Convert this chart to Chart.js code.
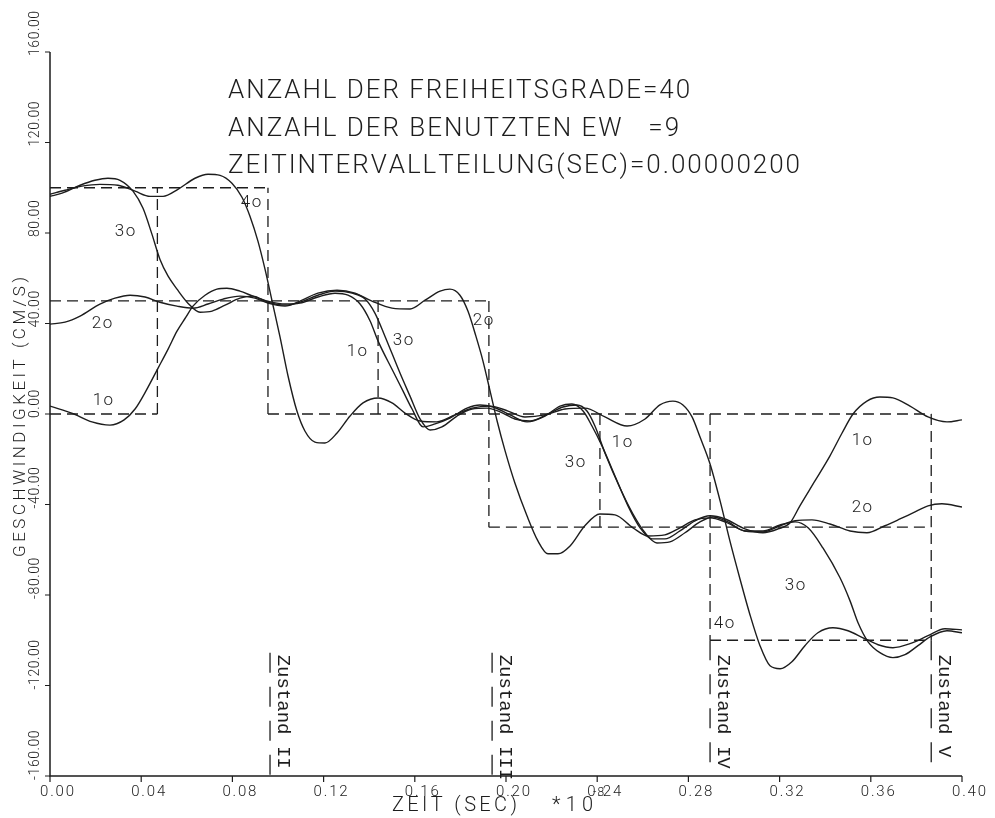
<!DOCTYPE html>
<html>
<head>
<meta charset="utf-8">
<script src="https://cdn.jsdelivr.net/npm/chart.js@4.4.1/dist/chart.umd.min.js"></script>
<style>
    html, body { margin: 0; padding: 0; background: #fff; }
    #wrap { width: 995px; height: 818px; }
</style>
</head>
<body>
<div id="wrap"><canvas id="chart" width="995" height="818"></canvas></div>
<script>
// Data: [zeit, geschwindigkeit]
const curve1 = [
    [0, 3.5], [0.0105, 0], [0.0184, -3.5], [0.0263, -4.9], [0.0325, -2.6], [0.0373, 2.2],
    [0.0421, 10.2], [0.0474, 20.3], [0.0518, 28.7], [0.0557, 36.6], [0.0596, 42.8], [0.0627, 47.7],
    [0.068, 52.5], [0.0732, 55.2], [0.0776, 55.6], [0.0833, 54.3], [0.089, 52.1], [0.0956, 49.9],
    [0.1031, 48.6], [0.1096, 49], [0.1175, 51.7], [0.125, 53.4], [0.1307, 52.5], [0.136, 48.6],
    [0.1404, 41.1], [0.1439, 32.2], [0.1504, 19], [0.1548, 10.2], [0.1588, 2.2], [0.1636, -5.7],
    [0.1689, -4.4], [0.1754, -1.8], [0.1829, 2.6], [0.1886, 4], [0.1943, 3.1], [0.2018, -0.4],
    [0.2092, -3.5], [0.2171, -0.9], [0.2237, 3.5], [0.2289, 4.4], [0.2338, 1.3], [0.2377, -5.3],
    [0.2421, -14.1], [0.2478, -27.4], [0.2535, -40.6], [0.2588, -50.3], [0.264, -55.2], [0.2697, -55.2],
    [0.2763, -51.7], [0.2829, -47.2], [0.2895, -45], [0.2961, -46.4], [0.3048, -50.8], [0.3127, -52.5],
    [0.3193, -50.8], [0.3246, -48.1], [0.3289, -40.6], [0.3355, -29.6], [0.3421, -18.5], [0.3474, -8.4],
    [0.3522, 0], [0.3583, 5.7], [0.364, 7.5], [0.3697, 7.1], [0.3772, 3.5], [0.3851, -1.3],
    [0.3934, -3.5], [0.4, -2.6]
];
const curve2 = [
    [0, 39.7], [0.0066, 40.6], [0.0132, 43.3], [0.0219, 48.6], [0.0285, 51.2], [0.0351, 52.5],
    [0.0417, 51.7], [0.0482, 49.4], [0.0557, 47.7], [0.0627, 46.8], [0.0693, 48.6], [0.0759, 50.8],
    [0.0833, 52.1], [0.0899, 51.2], [0.0956, 49], [0.1031, 47.7], [0.1096, 49.9], [0.1175, 53.4],
    [0.1259, 54.7], [0.1338, 53.4], [0.1412, 49.9], [0.15, 46.8], [0.1579, 46.4], [0.1645, 50.3],
    [0.1711, 54.3], [0.1754, 55.2], [0.1798, 52.5], [0.1833, 45.5], [0.1868, 34.4], [0.1899, 23.4],
    [0.193, 10.2], [0.1961, -3.1], [0.1996, -16.3], [0.2039, -30.5], [0.2092, -45], [0.214, -56.1],
    [0.2184, -61.8], [0.2228, -61.8], [0.2281, -58.3], [0.2346, -49.4], [0.2412, -44.2], [0.2478, -44.6],
    [0.2557, -50.3], [0.2623, -53.9], [0.2697, -53.4], [0.2763, -50.3], [0.2829, -46.8], [0.2895, -45.9],
    [0.2961, -47.7], [0.3048, -51.7], [0.3127, -52.1], [0.3202, -49.4], [0.3268, -47.2], [0.3342, -46.8],
    [0.3421, -48.6], [0.3509, -51.7], [0.3583, -52.5], [0.3662, -49.4], [0.3728, -46.4], [0.3785, -43.7],
    [0.3851, -40.6], [0.3912, -39.7], [0.4, -41.1]
];
const curve3 = [
    [0, 96.2], [0.0053, 97.6], [0.0132, 101.1], [0.0197, 103.3], [0.0254, 104.2], [0.0307, 103.3],
    [0.0364, 98.5], [0.0408, 90.9], [0.0447, 79.5], [0.0482, 68.4], [0.0518, 60.9], [0.0557, 55.2],
    [0.0605, 49], [0.0658, 45], [0.0711, 45.5], [0.0768, 48.1], [0.0833, 51.2], [0.089, 52.1],
    [0.0956, 49.4], [0.1031, 48.1], [0.1096, 49.4], [0.1175, 52.5], [0.125, 54.3], [0.1325, 53.4],
    [0.1382, 50.8], [0.1425, 44.6], [0.1469, 34.4], [0.1535, 18.1], [0.1579, 7.9], [0.1623, -2.2],
    [0.1667, -7.1], [0.1719, -5.7], [0.1785, -0.9], [0.1851, 2.2], [0.1917, 2.6], [0.1974, 0.9],
    [0.2039, -2.2], [0.2105, -3.1], [0.2184, 0], [0.225, 3.1], [0.2311, 4], [0.2355, 1.3],
    [0.239, -5.3], [0.2434, -17.2], [0.25, -32.7], [0.2557, -44.2], [0.261, -52.5], [0.2662, -57],
    [0.2719, -56.5], [0.2785, -52.5], [0.2851, -47.7], [0.2908, -45.5], [0.2974, -47.7], [0.3048, -51.7],
    [0.3127, -51.7], [0.3202, -49], [0.3268, -47.7], [0.3325, -50.3], [0.339, -59.2], [0.3465, -72.4],
    [0.3509, -82.6], [0.3544, -92.3], [0.3588, -100.7], [0.364, -105.5], [0.3697, -107.7], [0.375, -106.4],
    [0.3807, -102.4], [0.386, -98.5], [0.3934, -95.8], [0.4, -96.7]
];
const curve4 = [
    [0, 97.1], [0.0066, 98.9], [0.014, 100.7], [0.0219, 101.5], [0.0298, 101.1], [0.0373, 98.5],
    [0.0439, 96.2], [0.0496, 96.2], [0.0561, 99.3], [0.0636, 104.2], [0.0693, 106], [0.0746, 105.5],
    [0.0798, 102], [0.0842, 95.8], [0.0877, 87.4], [0.0912, 76.4], [0.0943, 64], [0.0974, 49.9],
    [0.1009, 34], [0.1044, 16.8], [0.1083, 1.3], [0.1118, -7.5], [0.1162, -12.4], [0.1206, -12.8],
    [0.1259, -8.4], [0.1316, -0.9], [0.1373, 4.9], [0.1439, 7.1], [0.15, 4.9], [0.1557, 0.4],
    [0.1623, -3.1], [0.1697, -3.5], [0.1776, -0.4], [0.1851, 2.6], [0.193, 3.5], [0.2009, 1.3],
    [0.2083, -1.3], [0.2171, -0.4], [0.2259, 2.2], [0.2346, 2.6], [0.2434, -1.3], [0.2531, -5.3],
    [0.261, -2.2], [0.2675, 4], [0.2732, 5.7], [0.2776, 4], [0.2816, -1.3], [0.2851, -10.2],
    [0.2895, -22.1], [0.2939, -38.4], [0.2982, -56.1], [0.3026, -72.8], [0.307, -88.7], [0.3114, -102.4],
    [0.3158, -111.3], [0.3202, -112.6], [0.3254, -109.5], [0.3311, -102.4], [0.3368, -96.7], [0.3434, -94.5],
    [0.35, -95.8], [0.3566, -98.9], [0.3632, -102], [0.3697, -103.3], [0.3772, -101.5], [0.3851, -98],
    [0.3925, -94.9], [0.4, -95.4]
];

// Exact step solution, drawn dashed: [t1, v1, t2, v2]
const stepSegments = [
    [0, 100, 0.0956, 100], [0, 50, 0.1925, 50], [0, 0, 0.0471, 0], [0.0956, 0, 0.3865, 0],
    [0.1925, -50, 0.3865, -50], [0.2895, -100, 0.3865, -100],
    [0.0471, 0, 0.0471, 100], [0.0956, 0, 0.0956, 100], [0.1439, 0, 0.1439, 50],
    [0.1925, 50, 0.1925, -50], [0.2412, 0, 0.2412, -50], [0.2895, 0, 0.2895, -100],
    [0.3865, 0, 0.3865, -100]
];

// Zustand markers
const zustandT = [0.0965, 0.1939, 0.2895, 0.3865];
const zustandTop = [-105.5, -105.5, -100, -100];
const zustandNames = ['Zustand II', 'Zustand III', 'Zustand IV', 'Zustand V'];

// Curve labels: [text, t, v]
const curveLabels = [
    ['4o', 0.0882, 93.2], ['3o', 0.0329, 80.4], ['2o', 0.0228, 39.7], ['1o', 0.0232, 5.7],
    ['2o', 0.1899, 41.1], ['3o', 0.1548, 32.2], ['1o', 0.1346, 27.4],
    ['1o', 0.2509, -12.8], ['3o', 0.2303, -21.6],
    ['1o', 0.3561, -11.9], ['2o', 0.3561, -41.5], ['3o', 0.3268, -75.9], ['4o', 0.2956, -92.7]
];

// Axes
const xTicks = [0, 0.04, 0.08, 0.12, 0.16, 0.20, 0.24, 0.28, 0.32, 0.36, 0.40];
const yTicks = [160, 120, 80, 40, 0, -40, -80, -120, -160];
const headerLines = [
    'ANZAHL DER FREIHEITSGRADE=40',
    'ANZAHL DER BENUTZTEN EW   =9',
    'ZEITINTERVALLTEILUNG(SEC)=0.00000200'
];
const xTitle = 'ZEIT (SEC)';
const yTitle = 'GESCHWINDIGKEIT (CM/S)';

const INK = '#1d1d1d';
const PLOT_FONT = 'Roboto, "DejaVu Sans", sans-serif';

function toPoints(pairs) {
    return pairs.map(p => ({ x: p[0], y: p[1] }));
}

function segmentsToPoints(segs) {
    const out = [];
    segs.forEach(s => {
        out.push({ x: s[0], y: s[1] }, { x: s[2], y: s[3] }, { x: s[2], y: null });
    });
    return out;
}

function zustandPoints() {
    const out = [];
    zustandT.forEach((t, i) => {
        out.push({ x: t, y: zustandTop[i] }, { x: t, y: -160 }, { x: t, y: null });
    });
    return out;
}

// Text helpers (plotter lettering is widely spaced)
function spacedWidth(ctx, text, gap) {
    let w = 0;
    for (const ch of text) w += ctx.measureText(ch).width + gap;
    return w - gap;
}

function fitGap(ctx, text, target) {
    return (target - spacedWidth(ctx, text, 0)) / (text.length - 1);
}

function drawSpaced(ctx, text, x, y, gap, align) {
    const w = spacedWidth(ctx, text, gap);
    let cx = x;
    if (align === 'center') cx = x - w / 2;
    if (align === 'right') cx = x - w;
    ctx.textAlign = 'left';
    for (const ch of text) {
        ctx.fillText(ch, cx, y);
        cx += ctx.measureText(ch).width + gap;
    }
}

const plotterDecor = {
    id: 'plotterDecor',
    afterDraw(chart) {
        const ctx = chart.ctx;
        const xs = chart.scales.x;
        const ys = chart.scales.y;
        const x0 = xs.getPixelForValue(0);
        const x1 = xs.getPixelForValue(0.4);
        const yTop = ys.getPixelForValue(160);
        const yBot = ys.getPixelForValue(-160);

        ctx.save();
        ctx.strokeStyle = INK;
        ctx.fillStyle = INK;
        ctx.lineWidth = 1.5;

        // axis lines
        ctx.beginPath();
        ctx.moveTo(x0, yTop);
        ctx.lineTo(x0, yBot);
        ctx.lineTo(x1, yBot);
        ctx.stroke();

        // tick marks
        ctx.lineWidth = 1.2;
        ctx.beginPath();
        yTicks.forEach(v => {
            const py = ys.getPixelForValue(v);
            ctx.moveTo(x0 - 5, py);
            ctx.lineTo(x0, py);
        });
        xTicks.forEach(t => {
            const px = xs.getPixelForValue(t);
            ctx.moveTo(px, yBot);
            ctx.lineTo(px, yBot + 6);
        });
        ctx.stroke();

        // y tick labels, rotated, starting at the tick and reading upward
        ctx.font = '300 14px ' + PLOT_FONT;
        ctx.textBaseline = 'middle';
        const yGap = fitGap(ctx, '120.00', 45);
        yTicks.forEach(v => {
            const py = ys.getPixelForValue(v);
            ctx.save();
            ctx.translate(x0 - 15, py + 4);
            ctx.rotate(-Math.PI / 2);
            drawSpaced(ctx, v.toFixed(2), 0, 0, yGap, 'left');
            ctx.restore();
        });

        // x tick labels
        ctx.font = '300 15px ' + PLOT_FONT;
        ctx.textBaseline = 'alphabetic';
        const xGap = fitGap(ctx, '0.04', 34);
        xTicks.forEach(t => {
            const px = xs.getPixelForValue(t);
            drawSpaced(ctx, t.toFixed(2), px + 7, yBot + 20, xGap, 'center');
        });

        // x title with exponent
        ctx.font = '300 20px ' + PLOT_FONT;
        drawSpaced(ctx, xTitle, 392, yBot + 35, fitGap(ctx, xTitle, 125), 'left');
        drawSpaced(ctx, '*10', 552, yBot + 35, fitGap(ctx, '*10', 41), 'left');
        ctx.font = '300 12px ' + PLOT_FONT;
        drawSpaced(ctx, '-8', 593, yBot + 20, 1, 'left');

        // y title
        ctx.font = '300 17px ' + PLOT_FONT;
        ctx.save();
        ctx.translate(21, 417);
        ctx.rotate(-Math.PI / 2);
        ctx.textBaseline = 'middle';
        drawSpaced(ctx, yTitle, 0, 0, fitGap(ctx, yTitle, 280), 'center');
        ctx.restore();

        // header
        ctx.font = '300 26px ' + PLOT_FONT;
        ctx.textBaseline = 'alphabetic';
        const hGap = fitGap(ctx, headerLines[2], 572);
        headerLines.forEach((line, i) => {
            drawSpaced(ctx, line, 228, 98 + i * 37.5, hGap, 'left');
        });

        // curve labels
        ctx.font = '300 17px ' + PLOT_FONT;
        ctx.textBaseline = 'middle';
        curveLabels.forEach(l => {
            drawSpaced(ctx, l[0], xs.getPixelForValue(l[1]), ys.getPixelForValue(l[2]), 1.5, 'center');
        });

        // Zustand labels, rotated clockwise
        ctx.font = '19px "Liberation Mono", "DejaVu Sans Mono", monospace';
        zustandT.forEach((t, i) => {
            ctx.save();
            ctx.translate(xs.getPixelForValue(t) + 13, ys.getPixelForValue(-105.5) + 2);
            ctx.rotate(Math.PI / 2);
            ctx.textAlign = 'left';
            ctx.textBaseline = 'middle';
            ctx.fillText(zustandNames[i], 0, 0);
            ctx.restore();
        });

        ctx.restore();
    }
};

const solid = { borderColor: INK, borderWidth: 1.4, pointRadius: 0, fill: false, cubicInterpolationMode: 'monotone' };

new Chart(document.getElementById('chart'), {
    type: 'line',
    data: {
        datasets: [
            { label: '1', data: toPoints(curve1), ...solid },
            { label: '2', data: toPoints(curve2), ...solid },
            { label: '3', data: toPoints(curve3), ...solid },
            { label: '4', data: toPoints(curve4), ...solid },
            {
                label: 'exakt', data: segmentsToPoints(stepSegments),
                borderColor: INK, borderWidth: 1.3, borderDash: [11, 6], pointRadius: 0, spanGaps: false, tension: 0
            },
            {
                label: 'zustand', data: zustandPoints(),
                borderColor: INK, borderWidth: 1.3, borderDash: [20, 14], pointRadius: 0, spanGaps: false, tension: 0
            }
        ]
    },
    options: {
        responsive: false,
        animation: false,
        devicePixelRatio: 1,
        layout: { padding: { left: 50, right: 33, top: 52, bottom: 42 } },
        scales: {
            x: { type: 'linear', min: 0, max: 0.4, display: false },
            y: { type: 'linear', min: -160, max: 160, display: false }
        },
        plugins: { legend: { display: false }, tooltip: { enabled: false } }
    },
    plugins: [plotterDecor]
});
</script>
</body>
</html>
